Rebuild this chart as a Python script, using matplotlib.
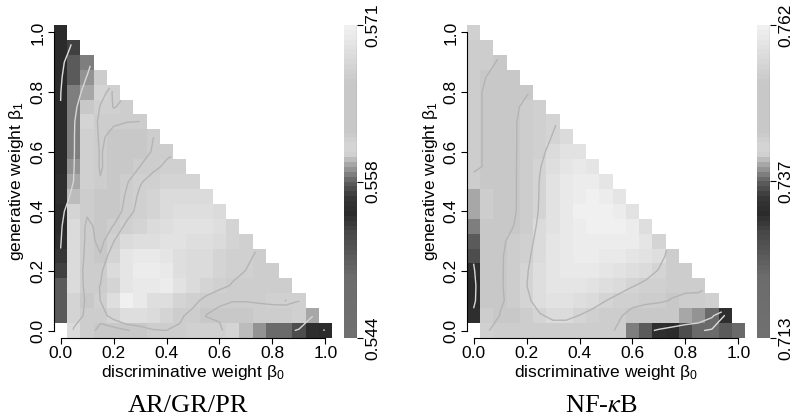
import numpy as np
import matplotlib
matplotlib.use("Agg")
import matplotlib.pyplot as plt
from matplotlib.colors import LinearSegmentedColormap

plt.rcParams['font.family'] = ['Liberation Sans', 'DejaVu Sans']
plt.rcParams['mathtext.fontset'] = 'custom'
plt.rcParams['mathtext.rm'] = 'Liberation Sans'
plt.rcParams['mathtext.it'] = 'Liberation Sans'

nan = np.nan
# grid of weights
beta = [round(0.05 * k, 2) for k in range(21)]

# accuracy values, row k -> beta1 = 0.05*k, entries for beta0 = 0, 0.05, ... (beta0+beta1<=1)
acc_left = [
    [nan, .56827, .56681, .56524, .56524, .56524, .56524, .56681, .56681, .56681, .56730, .56730, .56730, .56779, .55949, .55867, .55799, .55781, .55711, .55551, .55494],
    [.55751, .56779, .56681, .56681, .56779, .56876, .56876, .56827, .56779, .56681, .56681, .56524, .56524, .56524, .56524, .56681, .56681, .56681, .56730, .55933],
    [.55765, .56779, .56524, .56730, .56876, .57120, .57022, .56876, .56876, .56779, .56730, .56681, .56681, .56681, .56681, .56681, .56730, .56730, .56730],
    [.55738, .56827, .56681, .56681, .56779, .56974, .57022, .57022, .57071, .56925, .56827, .56779, .56730, .56681, .56681, .56681, .56681, .56681],
    [.55657, .56827, .56681, .56681, .56827, .56974, .57071, .57071, .57022, .56876, .56827, .56827, .56779, .56730, .56730, .56681, .56681],
    [.55630, .56827, .56681, .56524, .56779, .56974, .57022, .57022, .56974, .56876, .56827, .56827, .56779, .56730, .56730, .56681],
    [.55551, .56827, .56681, .56524, .56730, .56827, .56876, .56876, .56925, .56925, .56876, .56876, .56827, .56779, .56730],
    [.55494, .56827, .56681, .56524, .56681, .56730, .56779, .56827, .56876, .56925, .56925, .56925, .56876, .56779],
    [.55494, .56779, .56681, .56524, .56524, .56681, .56730, .56779, .56827, .56876, .56876, .56876, .56827],
    [.55551, .55949, .56681, .56524, .56524, .56681, .56730, .56779, .56827, .56827, .56827, .56827],
    [.55513, .55900, .56730, .56681, .56524, .56681, .56730, .56730, .56779, .56779, .56779],
    [.55494, .55867, .56730, .56681, .56524, .56524, .56681, .56681, .56730, .56730],
    [.55494, .55833, .56730, .56681, .56524, .56524, .56524, .56681, .56681],
    [.55494, .55833, .56730, .56681, .56524, .56524, .56524, .56681],
    [.55494, .55833, .56779, .56681, .56681, .56681, .56681],
    [.55494, .55816, .56524, .56730, .56730, .56681],
    [.55494, .55816, .55933, .56779, .56730],
    [.55494, .55751, .55884, .56681],
    [.55494, .55738, .55816],
    [.55494, .55643],
    [.55494],
]

acc_right = [
    [nan, .75457, .75369, .75369, .75369, .75369, .75369, .75369, .75369, .75369, .75369, .75369, .73842, .73671, .73266, .73232, .73622, .73749, .73749, .73720, .73781],
    [.73334, .75369, .75086, .75086, .75369, .75545, .75633, .75633, .75545, .75457, .75369, .75369, .75086, .75086, .75086, .75086, .73993, .73873, .73781, .73266],
    [.73232, .75086, .75086, .75369, .75545, .75721, .75809, .75809, .75721, .75633, .75545, .75457, .75457, .75369, .75369, .75086, .75369, .75369, .75457],
    [.73232, .75086, .75086, .75369, .75545, .75721, .75896, .75896, .75896, .75809, .75721, .75633, .75545, .75457, .75457, .75369, .75369, .75369],
    [.73334, .75086, .75086, .75369, .75545, .75721, .75896, .75984, .75984, .75984, .75896, .75809, .75721, .75633, .75545, .75369, .75369],
    [.73574, .75086, .75086, .75369, .75457, .75633, .75896, .75984, .76072, .76072, .75984, .75984, .75896, .75809, .75721, .75369],
    [.73720, .75086, .75086, .75369, .75457, .75633, .75896, .75984, .76072, .76072, .76072, .76072, .76072, .75896, .75545],
    [.73842, .75086, .75086, .75086, .75369, .75633, .75809, .75984, .76072, .76160, .76160, .76160, .76072, .75721],
    [.73964, .75369, .75086, .75086, .75369, .75545, .75809, .75984, .76160, .76160, .76160, .76072, .75809],
    [.74023, .75369, .75086, .75086, .75369, .75545, .75809, .75984, .76072, .76160, .76072, .75896],
    [.75369, .75086, .75086, .75086, .75369, .75545, .75809, .75984, .76072, .76072, .75896],
    [.75369, .75086, .75086, .75086, .75369, .75545, .75721, .75896, .75984, .75896],
    [.75369, .75086, .75086, .75086, .75369, .75457, .75633, .75809, .75809],
    [.75369, .75086, .75086, .75086, .75369, .75457, .75545, .75633],
    [.75369, .75086, .75086, .75086, .75369, .75457, .75545],
    [.75369, .75086, .75086, .75086, .75369, .75457],
    [.75369, .75086, .75086, .75086, .75086],
    [.75369, .75086, .75086, .75086],
    [.75369, .75369, .75086],
    [.75369, .75369],
    [.75457],
]

ranges = [(0.5441, 0.5712), (0.7128, 0.7616)]
cbar_labels = [["0.544", "0.558", "0.571"], ["0.713", "0.737", "0.762"]]
titles = ["AR/GR/PR", r"NF-$\kappa$B"]
contour_levels = [[0.5560, 0.5600, 0.5664, 0.5671],
                  [0.7350, 0.7375, 0.7400, 0.7520, 0.7555]]
contour_colors = [['#dddddd', '#d6d6d6', '#b4b4b4', '#b4b4b4'],
                  ['#dddddd', '#dddddd', '#d6d6d6', '#b4b4b4', '#b4b4b4']]

# colormap: gray, dark in middle, then light
anchors = [(0.00, 0x70), (0.19, 0x6c), (0.26, 0x5a), (0.33, 0x48), (0.40, 0x2a),
           (0.45, 0x38), (0.50, 0x60), (0.55, 0xa0), (0.59, 0xd4), (0.62, 0xd4),
           (0.66, 0xc8), (0.82, 0xc8), (1.00, 0xf0)]
cmap = LinearSegmentedColormap.from_list(
    'gr', [(p, (g / 255, g / 255, g / 255)) for p, g in anchors], N=64)


def smooth(Z):
    out = np.full_like(Z, np.nan)
    n = Z.shape[0]
    for i in range(n):
        for j in range(n):
            if np.isnan(Z[i, j]):
                continue
            s = w = 0.0
            for di in (-1, 0, 1):
                for dj in (-1, 0, 1):
                    a, b = i + di, j + dj
                    if 0 <= a < n and 0 <= b < n and not np.isnan(Z[a, b]):
                        ww = 4.0 if (di == 0 and dj == 0) else (2.0 if di == 0 or dj == 0 else 1.0)
                        s += ww * Z[a, b]
                        w += ww
            out[i, j] = s / w
    return out


fig = plt.figure(figsize=(7.92, 4.2), dpi=100)
W, H = 792, 420


def px_axes(x0, y0, x1, y1):
    return fig.add_axes([x0 / W, 1 - y1 / H, (x1 - x0) / W, (y1 - y0) / H])


edges = np.arange(22) * 0.05 - 0.025
centers = np.array(beta)
panels = [(54, 332, 344, 357), (467, 745, 757, 770)]

for p, (data, (vmin, vmax)) in enumerate(zip([acc_left, acc_right], ranges)):
    Z = np.full((21, 21), np.nan)
    for k, row in enumerate(data):
        Z[k, :len(row)] = row
    hx0, hx1, cx0, cx1 = panels[p]
    ax = px_axes(hx0, 25, hx1, 338)
    mesh = ax.pcolormesh(edges, edges, Z, cmap=cmap, vmin=vmin, vmax=vmax)
    Zs = smooth(Z)
    ax.contour(centers, centers, np.ma.masked_invalid(Zs), levels=contour_levels[p],
               colors=contour_colors[p], linewidths=1.0)
    ax.set_xlim(-0.025, 1.025)
    ax.set_ylim(-0.025, 1.025)
    for s in ['top', 'right']:
        ax.spines[s].set_visible(False)
    for s in ['left', 'bottom']:
        ax.spines[s].set_bounds(0, 1)
        ax.spines[s].set_linewidth(0.8)
    ticks = [0, 0.2, 0.4, 0.6, 0.8, 1.0]
    ax.set_xticks(ticks, [f"{t:.1f}" for t in ticks])
    ax.set_yticks(ticks, [f"{t:.1f}" for t in ticks])
    ax.tick_params(axis='both', length=4, width=0.8, labelsize=12.5, pad=2)
    for lab in ax.get_yticklabels():
        lab.set_rotation(90)
        lab.set_va('center')
    ax.set_xlabel(r"discriminative weight β$_0$", fontsize=12.5, labelpad=1)
    ax.set_ylabel(r"generative weight β$_1$", fontsize=12.5, labelpad=3)

    cax = px_axes(cx0, 25, cx1, 338)
    cb = fig.colorbar(mesh, cax=cax)
    cb.outline.set_visible(False)
    cb.set_ticks([vmin, (vmin + vmax) / 2, vmax], labels=cbar_labels[p])
    cax.tick_params(length=4, width=0.8, labelsize=12.5, pad=2)
    for lab in cax.get_yticklabels():
        lab.set_rotation(90)
        lab.set_va('center')
    cax.axvline(1.0, color='#333333', lw=0.8)

    fig.text((hx0 + hx1) / 2 / W - 0.006, 1 - 406 / H, titles[p], ha='center', va='center',
             fontsize=19, family='Liberation Serif', math_fontfamily='stix')

fig.savefig("out.png", dpi=100)
